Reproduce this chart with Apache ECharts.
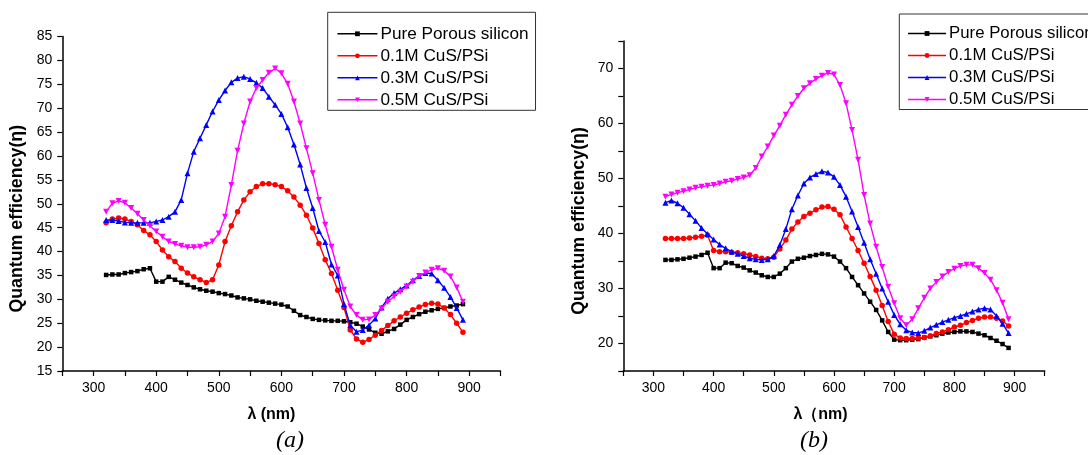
<!DOCTYPE html>
<html>
<head>
<meta charset="utf-8">
<script src="https://cdn.jsdelivr.net/npm/echarts@6/dist/echarts.min.js"></script>
<style>
  html, body { margin: 0; padding: 0; background: #ffffff; }
  #chart { width: 1088px; height: 455px; }
</style>
</head>
<body>
<div id="chart"></div>
<script>
// Wavelength grid (nm), shared by every curve
const wavelength = [320, 330, 340, 350, 360, 370, 380, 390, 400, 410, 420, 430, 440, 450, 460, 470, 480, 490, 500, 510,
  520, 530, 540, 550, 560, 570, 580, 590, 600, 610, 620, 630, 640, 650, 660, 670, 680, 690, 700, 710,
  720, 730, 740, 750, 760, 770, 780, 790, 800, 810, 820, 830, 840, 850, 860, 870, 880, 890];

const seriesNames = ['Pure Porous silicon', '0.1M CuS/PSi', '0.3M CuS/PSi', '0.5M CuS/PSi'];

// Panel (a): quantum efficiency
const pureA = [35.1, 35.2, 35.2, 35.5, 35.7, 35.9, 36.3, 36.5, 33.7, 33.7, 34.7, 34.1, 33.5, 33.0, 32.5, 32.1, 31.8, 31.6, 31.3, 31.1,
  30.8, 30.4, 30.2, 30.0, 29.7, 29.5, 29.3, 29.1, 28.9, 28.5, 27.6, 26.7, 26.3, 25.9, 25.7, 25.6, 25.5, 25.5, 25.4, 25.2,
  24.9, 24.3, 23.7, 23.0, 22.8, 23.3, 23.8, 24.7, 25.7, 26.3, 26.9, 27.4, 27.7, 28.0, 28.2, 28.5, 28.7, 29.0];
const cus01A = [46.0, 46.8, 47.0, 46.8, 46.3, 45.6, 44.4, 43.5, 42.1, 40.3, 38.9, 37.9, 36.5, 35.5, 34.7, 34.1, 33.5, 34.1, 37.2, 42.1,
  45.4, 48.3, 50.8, 52.5, 53.6, 54.2, 54.2, 54.0, 53.6, 52.7, 51.4, 49.7, 47.6, 44.9, 41.7, 38.3, 35.4, 31.9, 28.3, 23.6,
  21.7, 21.0, 21.6, 22.5, 23.5, 24.5, 25.5, 26.3, 27.1, 27.8, 28.4, 28.9, 29.2, 29.0, 28.2, 26.8, 25.0, 23.1];
const cus03A = [46.6, 46.6, 46.4, 46.1, 46.0, 46.0, 46.0, 46.0, 46.3, 46.6, 47.3, 48.3, 50.8, 56.4, 60.9, 63.7, 66.5, 69.3, 71.7, 73.7,
  75.4, 76.3, 76.6, 76.1, 75.3, 74.2, 72.4, 70.7, 68.8, 66.0, 62.4, 58.2, 53.3, 49.1, 44.3, 42.0, 37.3, 35.0, 29.0, 24.6,
  23.2, 23.6, 24.6, 26.0, 28.3, 30.1, 31.3, 32.1, 32.9, 34.0, 34.9, 35.5, 35.4, 34.0, 32.4, 30.5, 28.2, 25.7];
const cus05A = [48.3, 50.1, 50.6, 50.2, 49.1, 47.9, 46.6, 45.4, 44.2, 43.1, 42.1, 41.6, 41.2, 40.9, 40.9, 41.0, 41.4, 42.1, 43.8, 47.3,
  53.9, 61.1, 66.8, 71.4, 74.2, 75.9, 77.4, 78.3, 77.3, 75.1, 71.4, 66.8, 61.6, 56.4, 50.8, 45.6, 41.0, 36.2, 32.0, 28.5,
  26.7, 25.7, 25.8, 26.7, 28.1, 29.5, 30.6, 31.6, 32.7, 33.7, 34.9, 35.6, 36.2, 36.5, 36.0, 34.8, 32.5, 29.5];

// Panel (b): quantum efficiency
const pureB = [35.2, 35.2, 35.3, 35.4, 35.6, 35.8, 36.1, 36.5, 33.7, 33.7, 34.7, 34.6, 34.1, 33.8, 33.3, 32.9, 32.4, 32.1, 32.1, 32.7,
  33.7, 34.9, 35.4, 35.6, 35.9, 36.1, 36.3, 36.2, 35.8, 34.9, 33.7, 32.1, 30.6, 29.1, 27.6, 26.1, 24.2, 22.1, 20.7, 20.6,
  20.6, 20.7, 20.8, 21.1, 21.3, 21.5, 21.8, 22.0, 22.1, 22.2, 22.2, 22.1, 21.8, 21.5, 21.0, 20.5, 19.9, 19.2];
const cus01B = [39.1, 39.1, 39.1, 39.1, 39.2, 39.3, 39.5, 39.7, 36.9, 36.7, 36.7, 36.6, 36.5, 36.3, 36.1, 35.8, 35.5, 35.4, 35.7, 37.2,
  38.8, 40.8, 42.1, 43.1, 43.7, 44.3, 44.8, 44.9, 44.4, 43.4, 41.2, 39.1, 36.9, 34.6, 32.2, 29.7, 26.9, 24.0, 21.7, 21.0,
  20.9, 20.9, 21.0, 21.1, 21.4, 21.8, 22.1, 22.5, 23.0, 23.3, 23.8, 24.2, 24.6, 24.8, 24.8, 24.6, 24.1, 23.2];
const cus03B = [45.6, 46.0, 45.5, 44.7, 43.5, 42.3, 41.0, 39.9, 38.9, 38.0, 37.3, 36.7, 36.3, 35.9, 35.5, 35.3, 35.2, 35.3, 35.9, 37.9,
  40.8, 44.4, 46.9, 49.1, 50.2, 50.8, 51.3, 51.1, 50.3, 48.8, 46.7, 44.0, 41.2, 38.3, 35.3, 32.7, 30.0, 27.6, 25.2, 23.5,
  22.4, 22.0, 21.9, 22.3, 22.9, 23.4, 23.9, 24.3, 24.7, 25.0, 25.4, 25.8, 26.2, 26.4, 26.2, 25.0, 23.6, 21.9];
const cus05B = [46.7, 47.1, 47.4, 47.7, 48.0, 48.3, 48.5, 48.7, 48.8, 49.1, 49.4, 49.6, 49.9, 50.2, 50.6, 51.9, 54.0, 55.8, 57.8, 59.6,
  61.6, 63.4, 65.0, 66.4, 67.3, 68.1, 68.7, 69.2, 68.9, 67.0, 63.7, 58.8, 53.4, 47.0, 41.8, 37.6, 33.9, 30.3, 27.3, 24.6,
  23.3, 24.4, 26.4, 28.3, 30.0, 31.2, 32.2, 33.0, 33.6, 34.1, 34.3, 34.3, 33.7, 32.8, 31.6, 29.7, 27.4, 24.4];

// Axis tick labels
const xTickLabels = [300, 400, 500, 600, 700, 800, 900];
const yTickLabelsA = [15, 20, 25, 30, 35, 40, 45, 50, 55, 60, 65, 70, 75, 80, 85];
const yTickLabelsB = [20, 30, 40, 50, 60, 70];

const colors = ['#000000', '#ff0000', '#0000ff', '#ff00ff'];
const symbols = ['rect', 'circle', 'triangle', 'triangle'];
const symbolSizes = [4.5, 5.5, 6, 6];
const symbolRotations = [0, 0, 0, 180];

const FONT = '"Liberation Sans", Arial, sans-serif';

function pairs(values) {
  return wavelength.map((w, i) => [w, values[i]]);
}

function makeSeries(idx, values, gridIdx) {
  return {
    name: seriesNames[idx],
    type: 'line',
    xAxisIndex: gridIdx,
    yAxisIndex: gridIdx,
    data: pairs(values),
    symbol: symbols[idx],
    symbolSize: symbolSizes[idx],
    symbolRotate: symbolRotations[idx],
    showSymbol: true,
    lineStyle: { color: colors[idx], width: 1.4 },
    itemStyle: { color: colors[idx], borderWidth: 0 },
    emphasis: { disabled: true },
    z: 2 + idx
  };
}

function xAxis(gridIdx, namePadRight) {
  return {
    type: 'value',
    gridIndex: gridIdx,
    min: 250,
    max: 950,
    interval: 50,
    name: gridIdx === 0 ? 'λ (nm)' : 'λ（nm)',
    nameLocation: 'middle',
    nameGap: 36,
    nameTextStyle: { fontFamily: FONT, fontSize: 16, fontWeight: 'bold', color: '#000', padding: [0, namePadRight, 0, 0] },
    axisLine: { show: true, onZero: false, lineStyle: { color: '#000', width: 1.5 } },
    axisTick: { show: true, inside: false, length: 5, lineStyle: { color: '#000', width: 1.2 } },
    axisLabel: {
      fontFamily: FONT, fontSize: 14, color: '#000', margin: 10,
      formatter: v => (xTickLabels.indexOf(v) >= 0 ? String(v) : '')
    },
    splitLine: { show: false }
  };
}

function yAxis(gridIdx, min, max, labels, nameGap) {
  return {
    type: 'value',
    gridIndex: gridIdx,
    min: min,
    max: max,
    interval: 5,
    name: 'Quantum efficiency(η)',
    nameLocation: 'middle',
    nameGap: nameGap,
    nameTextStyle: { fontFamily: FONT, fontSize: 17.8, fontWeight: 'bold', color: '#000', padding: [0, 30, 0, 0] },
    axisLine: { show: true, onZero: false, lineStyle: { color: '#000', width: 1.5 } },
    axisTick: { show: true, inside: false, length: 5, lineStyle: { color: '#000', width: 1.2 } },
    axisLabel: {
      fontFamily: FONT, fontSize: 14, color: '#000', margin: 10,
      formatter: v => (labels.indexOf(v) >= 0 ? String(v) : '')
    },
    splitLine: { show: false }
  };
}

function legend(left, top, fontSize, itemWidth, padding) {
  return {
    left: left,
    top: top,
    orient: 'vertical',
    data: seriesNames,
    itemWidth: itemWidth,
    itemHeight: 6,
    itemGap: 5,
    padding: padding,
    borderColor: '#333',
    borderWidth: 1,
    backgroundColor: '#fff',
    selectedMode: false,
    lineStyle: { width: 1.5 },
    textStyle: { fontFamily: FONT, fontSize: fontSize, color: '#000', lineHeight: 14, padding: [0, 0, 0, -2] }
  };
}

const chart = echarts.init(document.getElementById('chart'), null, { renderer: 'canvas' });

chart.setOption({
  animation: false,
  backgroundColor: '#ffffff',
  grid: [
    { left: 62.3, right: 587.5, top: 36.5, bottom: 84 },
    { left: 623.3, right: 43.3, top: 41, bottom: 84 }
  ],
  xAxis: [xAxis(0, 20), xAxis(1, 27)],
  yAxis: [
    yAxis(0, 15, 85, yTickLabelsA, 36),
    yAxis(1, 15, 75, yTickLabelsB, 35)
  ],
  legend: [
    legend(327.7, 12.3, 17.2, 40, [13, 7, 2, 9]),
    legend(899.3, 14, 16.8, 38, [11, 7, 1.5, 8])
  ],
  series: [
    makeSeries(0, pureA, 0),
    makeSeries(1, cus01A, 0),
    makeSeries(2, cus03A, 0),
    makeSeries(3, cus05A, 0),
    makeSeries(0, pureB, 1),
    makeSeries(1, cus01B, 1),
    makeSeries(2, cus03B, 1),
    makeSeries(3, cus05B, 1)
  ],
  graphic: [
    { type: 'text', x: 290, y: 441, style: { text: '(a)', textAlign: 'center', textVerticalAlign: 'middle',
      font: 'italic 24px "Liberation Serif", "Times New Roman", serif', fill: '#000' } },
    { type: 'text', x: 814, y: 441, style: { text: '(b)', textAlign: 'center', textVerticalAlign: 'middle',
      font: 'italic 24px "Liberation Serif", "Times New Roman", serif', fill: '#000' } }
  ]
});
</script>
</body>
</html>
